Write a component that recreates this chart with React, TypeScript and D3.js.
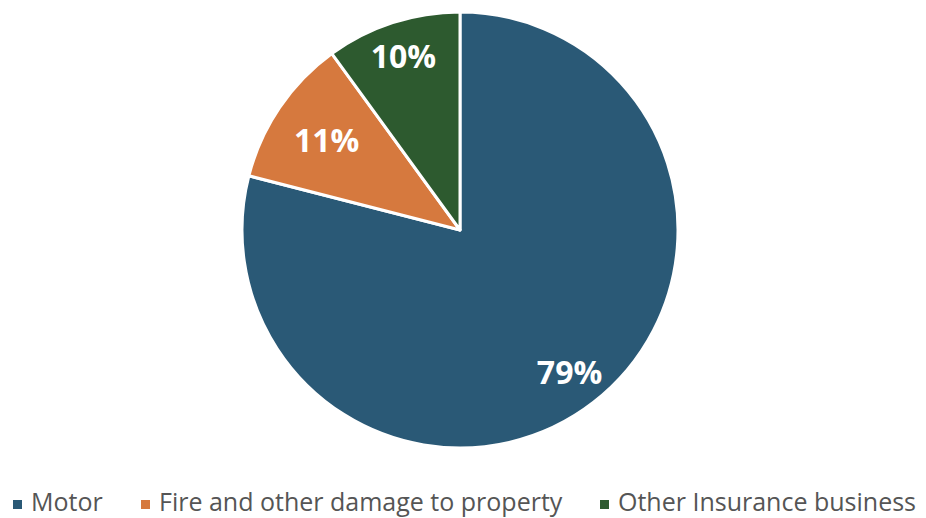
import React from "react";
import * as d3 from "d3";

const categories = ["Motor", "Fire and other damage to property", "Other Insurance business"];
const values = [79, 11, 10];
const labels = ["79%", "11%", "10%"];
const colors = ["#2a5976", "#d6793e", "#2d5a2f"];

const W = 926, H = 518;
const cx = 460, cy = 230, R = 218;

export default function App() {
  const pie = d3.pie<number>().sort(null).value(d => d)(values);
  const arc = d3.arc<d3.PieArcDatum<number>>().innerRadius(0).outerRadius(R);
  const labelRadius = [0.82, 0.74, 0.84];
  const legendX = [13, 141, 600];
  return (
    <svg width={W} height={H} style={{ position: "absolute", left: 0, top: 0 }}>
      <rect width={W} height={H} fill="#fff" />
      <g transform={`translate(${cx},${cy})`}>
        {pie.map((p, i) => (
          <path key={i} d={arc(p) || ""} fill={colors[i]} stroke="#fff" strokeWidth={3} strokeLinejoin="round" />
        ))}
        {pie.map((p, i) => {
          const la = d3.arc<d3.PieArcDatum<number>>().innerRadius(R * labelRadius[i]).outerRadius(R * labelRadius[i]);
          const [x, y] = la.centroid(p);
          return (
            <text key={i} x={x} y={y} textAnchor="middle" dominantBaseline="central"
              fill="#fff" fontFamily="Open Sans, sans-serif" fontWeight={700} fontSize={32}>
              {labels[i]}
            </text>
          );
        })}
      </g>
      {categories.map((c, i) => (
        <g key={c}>
          <rect x={legendX[i]} y={500} width={9} height={9} fill={colors[i]} />
          <text x={legendX[i] + 18} y={511} fill="#555" fontFamily="Open Sans, sans-serif" fontSize={25}>{c}</text>
        </g>
      ))}
    </svg>
  );
}
